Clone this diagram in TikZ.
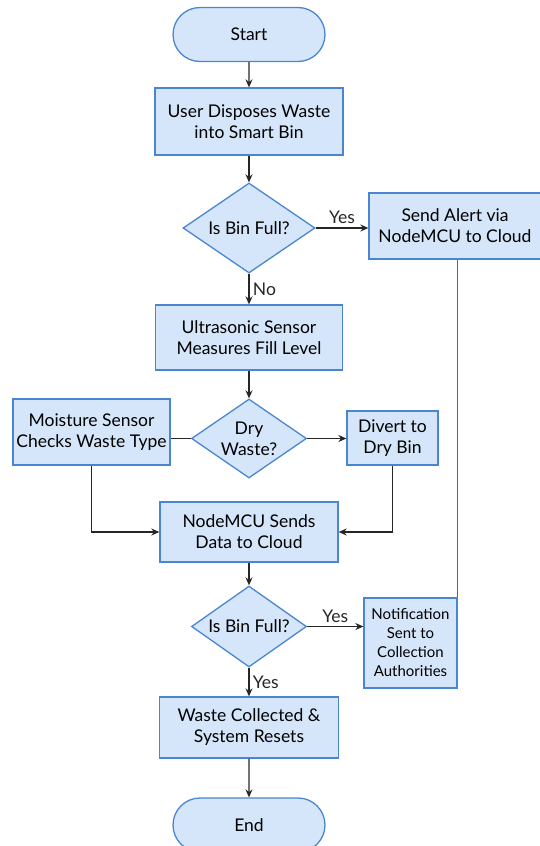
\documentclass[tikz,border=0pt]{standalone}
\usepackage{fontspec}
\setmainfont{Lato}
\usetikzlibrary{shapes.geometric,shapes.misc,arrows.meta}

\definecolor{boxfill}{RGB}{214,230,250}
\definecolor{boxline}{RGB}{74,134,208}
\definecolor{linkgray}{RGB}{100,100,100}

\begin{document}
\begin{tikzpicture}[x=1pt, y=-1pt,
  font=\fontsize{17.5}{21}\selectfont,
  base/.style={draw=boxline, fill=boxfill, line width=1.3pt, inner sep=0pt, align=center},
  process/.style={base, rectangle},
  terminal/.style={base, rounded rectangle, minimum width=152pt, minimum height=54pt},
  decision/.style={base, diamond, aspect=1.4},
  arrow/.style={-{Stealth[length=8pt,width=7pt]}, line width=1.2pt, black!85},
  link/.style={line width=1.2pt, black!85}]

\useasboundingbox (0,0) rectangle (540,846);

% main column
\node (start) [terminal] at (249,34.5) {Start};
\node (dispose) [process, minimum width=188pt, minimum height=67pt] at (249,121.5) {User Disposes Waste\\into Smart Bin};
\node (full1) [decision, minimum width=132pt, minimum height=90pt] at (249,228) {Is Bin Full?};
\node (ultra) [process, minimum width=187pt, minimum height=65pt] at (249,337.5) {Ultrasonic Sensor\\Measures Fill Level};
\node (dry) [decision, minimum width=115pt, minimum height=79pt] at (249,438.5) {Dry\\Waste?};
\node (send) [process, minimum width=178pt, minimum height=60pt] at (249,532) {NodeMCU Sends\\Data to Cloud};
\node (full2) [decision, minimum width=115pt, minimum height=81pt] at (249,626.5) {Is Bin Full?};
\node (collect) [process, minimum width=179pt, minimum height=61pt] at (249,727.5) {Waste Collected \&\\System Resets};
\node (end) [terminal] at (249,825) {End};

% side boxes
\node (alert) [process, minimum width=172pt, minimum height=66pt] at (455,226) {Send Alert via\\NodeMCU to Cloud};
\node (moist) [process, minimum width=157pt, minimum height=66pt] at (91.5,432) {Moisture Sensor\\Checks Waste Type};
\node (divert) [process, minimum width=91pt, minimum height=54pt] at (392.5,438) {Divert to\\Dry Bin};
\node (notify) [process, minimum width=93pt, minimum height=90pt, font=\fontsize{15}{19}\selectfont] at (410.5,643) {Notification\\Sent to\\Collection\\Authorities};

% connectors
\draw [arrow] (start) -- (dispose);
\draw [arrow] (dispose) -- (full1);
\draw [arrow] (full1) -- node [right] {No} (ultra);
\draw [arrow] (full1.east) -- node [above] {Yes} (full1.east -| alert.west);
\draw [arrow] (ultra) -- (dry);
\draw [arrow] (dry.east) -- (dry.east -| divert.west);
\draw [link] (dry.west) -- (dry.west -| moist.east);
\draw [arrow] (moist.south) |- (send.west);
\draw [arrow] (divert.south) |- (send.east);
\draw [arrow] (send) -- (full2);
\draw [arrow] (full2.east) -- node [above] {Yes} (full2.east -| notify.west);
\draw [arrow] (full2) -- node [right] {Yes} (collect);
\draw [arrow] (collect) -- (end);
\draw [link, linkgray] (alert.south -| notify.north east) -- (notify.north east);

\end{tikzpicture}
\end{document}
